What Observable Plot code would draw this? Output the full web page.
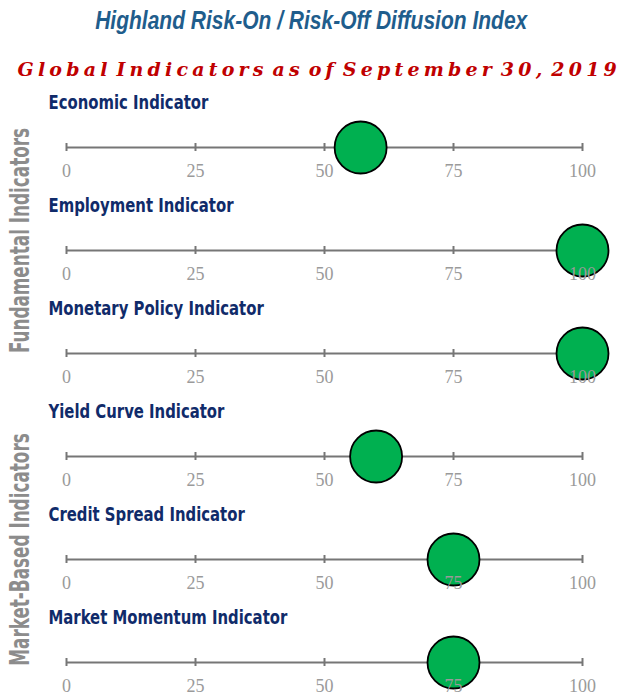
<!DOCTYPE html>
<html>
<head>
<meta charset="utf-8">
<script src="https://cdn.jsdelivr.net/npm/d3@7"></script>
<script src="https://cdn.jsdelivr.net/npm/@observablehq/plot@0.6"></script>
<style>
  body { margin: 0; background: #fff; width: 623px; overflow: hidden; }
  #title { height: 40px; line-height: 40px; text-align: center; white-space: nowrap; }
  #title span { display: inline-block; transform: scaleX(0.84); font-family: "Liberation Sans", sans-serif; font-style: italic; font-weight: bold; font-size: 25px; color: #1f5d8c; }
  #subtitle { height: 44px; line-height: 58px; text-align: right; padding-right: 2px; font-family: "DejaVu Serif", "Liberation Serif", serif; font-style: italic; font-weight: bold; font-size: 19px; letter-spacing: 4.2px; word-spacing: -6px; color: #c00000; white-space: nowrap; }
  svg { display: block; }
</style>
</head>
<body>
<div id="title"><span>Highland Risk-On / Risk-Off Diffusion Index</span></div>
<div id="subtitle">Global Indicators as of September 30, 2019</div>
<div id="chart"></div>
<script>
const indicators = ["Economic Indicator", "Employment Indicator", "Monetary Policy Indicator", "Yield Curve Indicator", "Credit Spread Indicator", "Market Momentum Indicator"];
const values = [57, 100, 100, 60, 75, 75];
const tickValues = [0, 25, 50, 75, 100];
const groups = ["Fundamental Indicators", "Market-Based Indicators"];
const groupAnchors = ["Employment Indicator", "Credit Spread Indicator"];

const rows = indicators.map((name, i) => ({name, value: values[i]}));
const ticks = indicators.flatMap(name => tickValues.map(t => ({name, t})));
const lines = indicators.map(name => ({name, x1: tickValues[0], x2: tickValues[tickValues.length - 1]}));
const groupRows = groups.map((g, i) => ({g, name: groupAnchors[i]}));

const narrow = '"DejaVu Sans Condensed", "Liberation Sans", sans-serif';

const plot = Plot.plot({
  width: 623,
  height: 614,
  marginLeft: 66,
  marginRight: 41,
  marginTop: 62,
  marginBottom: 35,
  x: {domain: [0, 100], axis: null},
  y: {type: "point", domain: indicators, axis: null, padding: 0},
  marks: [
    Plot.ruleY(lines, {y: "name", x1: "x1", x2: "x2", stroke: "#767676", strokeWidth: 2}),
    Plot.ruleX(ticks, {x: "t", y1: "name", y2: "name", stroke: "#767676", strokeWidth: 2, insetTop: -4, insetBottom: -4}),
    Plot.dot(rows, {x: "value", y: "name", r: 26, fill: "#00b050", stroke: "#000", strokeWidth: 1.8}),
    Plot.text(ticks, {x: "t", y: "name", text: d => String(d.t), dy: 24, fill: "#9a9a9a", fontSize: 18, fontFamily: '"Liberation Serif", "Times New Roman", serif'}),
    Plot.text(rows, {y: "name", text: "name", frameAnchor: "left", textAnchor: "start", dx: -18, dy: -45, fill: "#102b6a", fontSize: 19, fontWeight: "bold", fontFamily: narrow}),
    Plot.text(groupRows, {y: "name", text: "g", frameAnchor: "left", textAnchor: "middle", dx: -46, dy: -10, rotate: -90, fill: "#8c8c8c", fontSize: 26, fontWeight: "bold", fontFamily: narrow})
  ]
});
document.getElementById("chart").appendChild(plot);

// condense label glyphs along the text direction to mimic a narrow typeface
function condense(names, factor) {
  plot.querySelectorAll("text").forEach(t => {
    if (!names.includes(t.textContent)) return;
    const ax = parseFloat(t.getAttribute("x"));
    const a = Number.isFinite(ax) ? ax : 0;
    const tr = t.getAttribute("transform") || "";
    t.setAttribute("transform", `${tr} translate(${a},0) scale(${factor},1) translate(${-a},0)`.trim());
  });
}
condense(indicators, 0.87);
condense(groups, 0.72);
</script>
</body>
</html>
